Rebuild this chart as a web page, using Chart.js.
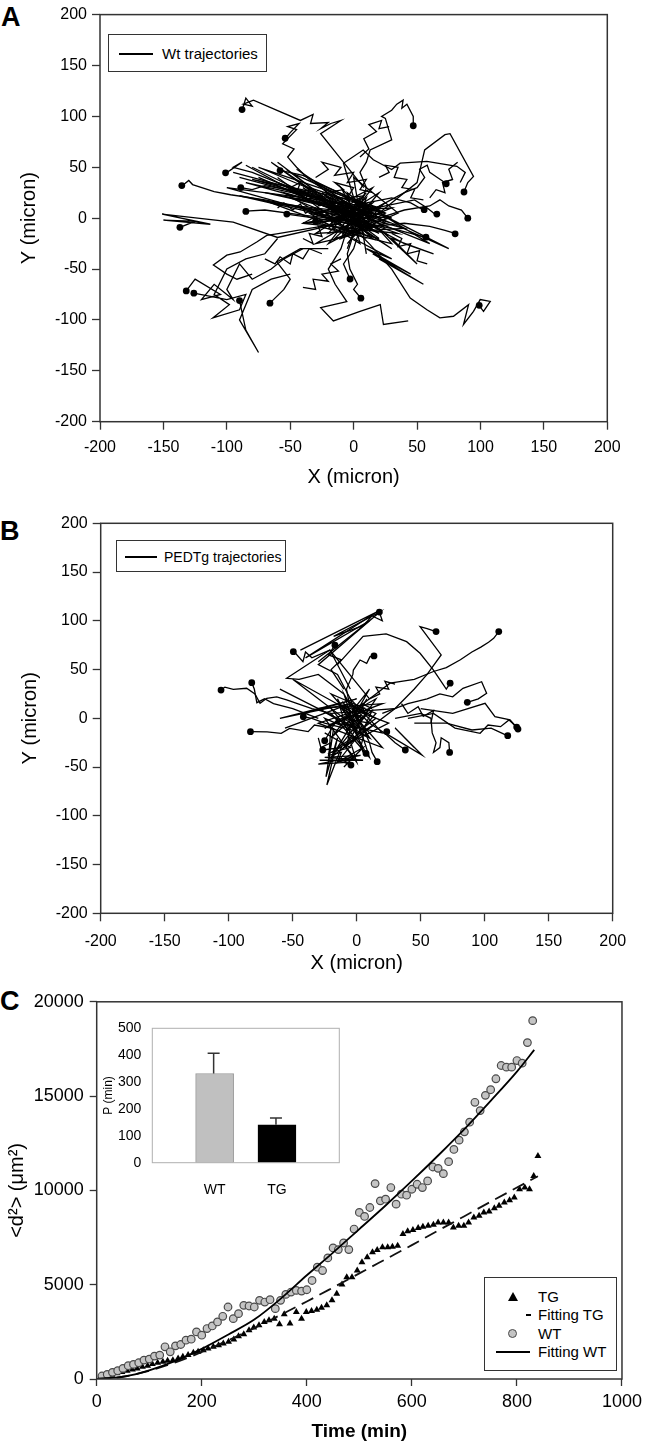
<!DOCTYPE html>
<html><head><meta charset="utf-8">
<script src="https://cdn.jsdelivr.net/npm/chart.js@4.4.0/dist/chart.umd.min.js"></script>
<style>
body{margin:0;background:#fff;width:647px;height:1447px;position:relative;overflow:hidden;font-family:"Liberation Sans",Arial,sans-serif;color:#000;}
canvas{position:absolute;}
.letter{position:absolute;font-weight:bold;font-size:27px;line-height:27px;}
.legend{position:absolute;border:1px solid #333;background:#fff;box-sizing:border-box;}
.legend .txt{position:absolute;white-space:nowrap;line-height:1;}
.legend .ln{position:absolute;background:#000;height:1.5px;}
</style></head><body>
<div class="letter" style="left:1px;top:4px">A</div>
<div class="letter" style="left:0px;top:518px">B</div>
<div class="letter" style="left:0px;top:988px">C</div>
<canvas id="cA" width="647" height="490" style="left:0;top:0"></canvas>
<canvas id="cB" width="647" height="495" style="left:0;top:490px"></canvas>
<canvas id="cC" width="647" height="462" style="left:0;top:985px"></canvas>
<canvas id="cI" width="260" height="185" style="left:90px;top:1010px"></canvas>

<div class="legend" style="left:108px;top:34px;width:159px;height:38px">
  <div class="ln" style="left:10px;top:18px;width:34px"></div>
  <div class="txt" style="left:53px;top:11px;font-size:15px">Wt trajectories</div>
</div>
<div class="legend" style="left:116px;top:540px;width:170px;height:32px">
  <div class="ln" style="left:8px;top:15px;width:32px"></div>
  <div class="txt" style="left:47px;top:9px;font-size:14px">PEDTg trajectories</div>
</div>
<div class="legend" style="left:484px;top:1277px;width:133px;height:94px">
  <div style="position:absolute;left:23px;top:14px;width:0;height:0;border-left:5px solid transparent;border-right:5px solid transparent;border-bottom:9px solid #000"></div>
  <div class="txt" style="left:53px;top:11px;font-size:15px">TG</div>
  <div class="ln" style="left:41px;top:36px;width:5px;height:2px"></div>
  <div class="txt" style="left:53px;top:29px;font-size:15px">Fitting TG</div>
  <div style="position:absolute;left:23px;top:51px;width:7px;height:7px;border-radius:50%;background:#c4c4c4;border:1.2px solid #4a4a4a"></div>
  <div class="txt" style="left:53px;top:48px;font-size:15px">WT</div>
  <div class="ln" style="left:11px;top:73px;width:34px;height:2px"></div>
  <div class="txt" style="left:53px;top:66px;font-size:15px">Fitting WT</div>
</div>

<script>
// ---------- Panel A : WT trajectories (x, y pairs in micron) ----------
const wtTracks = [
  [8,30, -26,83, -10,96, -18,93, -26,88, -20,94, -34,93, -32,102, -42,96, -79,116, -87,112, -80,110, -85,118, -88,106],
  [-5,15, -20,25, -35,38, -45,50, -52,60, -47,68, -56,73, -45,87, -52,90, -43,93, -50,84, -54,78],
  [0,0, -20,5, -45,12, -70,18, -97,23, -110,26, -127,33, -130,37, -135,32],
  [-10,-5, -60,-19, -95,-4, -151,4, -113,-6, -150,-2, -125,-3, -137,-9],
  [20,-5, -30,20, -80,45, -95,50, -88,55, -101,44],
  [10,5, -40,25, -70,32, -80,28, -89,30],
  [0,-3, -40,3, -70,8, -85,7],
  [15,10, -20,30, -40,42, -58,47],
  [-5,-5, -30,0, -53,4],
  [5,10, 10,30, 5,45, 10,55, 13,67, 30,77, 25,98, 22,100, 30,106, 34,112, 39,116, 38,108, 42,112, 47,100, 47,91],
  [10,5, 25,15, 40,25, 50,30, 56,40, 52,48, 58,52, 60,45, 66,40, 73,34],
  [15,0, 35,20, 50,35, 56,67, 72,82, 76,83, 94.5,41, 90,35, 87,26],
  [20,0, 40,8, 60,12, 68,18, 75,12, 85,8, 90,0],
  [10,-5, 30,-10, 45,-15, 57,-19],
  [15,-8, 40,-5, 60,-8, 72,-12, 80,-15],
  [10,15, 30,20, 45,15, 55,8],
  [0,5, 25,12, 48,18, 58,10, 65,3],
  [0,-10, 13,-26, 30,-50, 44.6,-78.6, 57.8,-90, 68,-98, 78.7,-96.4, 90.6,-85, 86.6,-104.5, 94.5,-91.5, 99.8,-80, 107.7,-81.8, 102.4,-91.5, 99,-86],
  [0,-15, -5,-35, -3,-50, 3,-65, 0,-70, 5.7,-78.6],
  [5,-10, 0,-30, -8,-45, -2.8,-60],
  [43,-101, 23.5,-104.5, 21,-85, 5,-91.6, -16,-101, -26,-88, -5.4,-82, -14.6,-65, -20,-50, -10,-30, -5,-10],
  [-40,-30, -55,-40, -65,-50, -80,-60, -90,-45, -100,-70, -95,-80, -110,-65, -120,-80, -105,-75, -125,-60, -132,-71.5],
  [-60,-20, -70,-35, -85,-40, -100,-50, -110,-75, -98,-85, -111,-98, -90,-90, -85,-75, -100,-80, -126,-73.7],
  [-50,-55, -65,-60, -80,-70, -90,-100, -75,-132, -85,-110, -90,-81],
  [-20,-30, -42,-30, -60.6,-43, -50,-60, -55,-70, -66,-83.5],
  [-10,-5, -35,-10, -60.6,-15.4, -68.5,-17, -76.4,-23.5, -89.5,-33.2, -100,-36.4, -110.6,-46, -100,-55, -92,-60, -80,-55],
  [-20,20, 10,-5, 40,-25, 63,-35, 30,-20, 50,-45, 20,-10],
  [0,20, -8,54, 7.5,67, 15.5,57.4, 30,47.7, 36.7,54, 57.7,55.8, 81.4,51, 88,45, 84,35],
  [-80,50, 10,-5, -60,35, 20,0, -70,25, 15,5, -90,40, 0,10, -45,48, 25,-10],
  [-40,30, 30,-30, -20,10, 40,-10, -30,-15, 20,25, -10,-20, 35,5, 0,40, 10,-35],
  [-25,-5, 15,15, -15,-20, 25,-5, -5,25, 5,-25, -35,5, 30,10, -10,-10, 20,-20],
  [-5,10, -50,20, 10,-10, -30,35, 25,5, -20,-25, 15,30, -40,-5, 35,-15, 0,0],
  [10,0, -15,5, 20,-15, -25,20, 5,-5, -10,30, 30,-25, -20,-10, 10,20, -5,-30],
  [0,-20, 30,-40, 10,-30, 45,-55, 15,-35, 55,-65, 20,-40],
  [10,0, 60,-25, 20,5, 75,-30, 30,-5],
  [-85,52, -30,15, -75,40, -10,5, -65,55, 5,-5, -90,22, 0,0],
  [-15,-5, -5,5, -12,10, 0,-8, 8,4, -3,12, 5,-12, 12,8, -8,-12, 3,3, -10,0, 10,-5, -5,15, 15,0, 0,-15],
  [-30,40, -20,48, -25,55, -10,50, -15,42, 0,45, -5,35, 10,38, 5,28, 15,25],
  [20,40, 28,45, 25,52, 35,50, 32,40, 42,38, 38,30, 48,28, 45,20, 55,18],
  [-50,30, -42,35, -45,25, -35,28, -38,18, -25,22, -28,12, -15,15, -18,5],
  [-40,-20, -32,-25, -35,-15, -25,-18, -28,-8, -15,-12, -18,-2, -5,-5],
  [30,-15, 38,-20, 35,-28, 45,-25, 42,-35, 52,-32, 50,-42, 58,-45],
  [-10,-40, -18,-45, -12,-52, -25,-55, -20,-62, -32,-60, -30,-70, -40,-68],
  [-60,10, -55,15, -48,8, -42,14, -38,5, -30,10, -25,2, -15,6],
  [5,60, 12,68, 8,78, 18,85, 12,92, 22,96, 20,88, 28,90],
  [60,20, 65,28, 72,25, 70,35, 78,38, 75,48, 82,55],
  [-70,-40, -62,-45, -58,-38, -50,-45, -48,-35, -40,-40, -35,-30, -25,-35],
  [-95,45, 25,5, -85,35, 30,-5, -75,50, 20,10, -100,30, 15,-10],
  [-60,55, 20,-20, -50,45, 30,0, -80,38, 10,15],
  [-20,10, -12,18, -22,25, -8,28, -15,35, 0,30, -5,20, 8,22, 2,12, 12,10],
  [-30,15, 20,-10, -35,5, 25,-15, -25,25, 15,-20, -40,10, 28,0, -20,-15, 10,25],
  [-10,-20, 5,20, -20,0, 15,5, -5,-25, 22,12, -28,-5, 8,-15, -15,22, 18,-5],
  [-45,20, 10,0, -40,-5, 20,8, -35,30, 5,-15, -30,-25, 25,15],
  [-60,40, 0,-15, -55,25, 5,5, -65,15, 10,-20]
];
// end-of-track dots
const wtEnds = [-88,106.7, -54,78.5, -135.5,32, -101,44.5, -89,30, -85,6.6, -58,46.7, -52.7,4, -137,-9, -132,-71.5, -126,-73.7, -90,-81, -66,-83.5, 47,90.8, 73,33.8, 87,25.7, 90,0, 55.6,8.3, 65.6,4, 57,-18.7, 80,-15.4, -2.8,-59.8, 5.7,-78.6, 99,-85.7, -30,-3, 12,-8];

// ---------- Panel B : PEDTg trajectories ----------
const pedTracks = [
  [-20,5, -35,10, -46.9,15.4, -54.7,18.8, -62.5,22, -70.3,20.5, -75.5,15.4, -79.5,25, -86,30.8, -96.4,29.7, -103,32, -106,29],
  [-30,0, -50,10, -65,15, -72,20, -78,16, -80,30, -82,36.5],
  [-5,30, -21,70, -35,62, -40,68, -42,58, -48,67, -49.5,68.3],
  [10,20, -21,70, -54.7,41, -45,40, -30,45, -10,25],
  [-10,-10, -25,-5, -35,0, -41.7,1.6],
  [-5,20, -15,45, -30,55, 18,109, -18,84, 5,95, 12,105, 20,100, 17.7,109],
  [30,10, 45,30, 55,45, 66,65, 49.5,94, 55,92, 62,89],
  [0,10, 15,25, 26,36, 45,40, 60,48, 70,52, 81,60, 90,68, 97,73, 103,78, 107,82, 111,89],
  [-15,55, 5,84, 23,86.5, 39,78.6, 49.5,66.7, 60,49.5, 70,30, 73,36],
  [-5,10, -8,30, -3,45, -2.6,49.5, 2.6,59.8, 7.8,56.4, 10.4,63.2, 13.5,64],
  [-10,30, -20,50, -12,60, -22,65, -17,75],
  [20,5, 40,15, 55,20, 65,25, 75,22, 83,30.8, 97.6,37.5, 101.5,25.6, 95,20, 86.4,16.4],
  [40,0, 60,5, 76.8,-10, 96.4,-15.4, 102.6,-6.9, 112.4,-8.6, 119,-1.7, 125,-9],
  [50,10, 75,5, 100.3,15.4, 108,1.6, 119.8,-1.7, 126,-11],
  [45,-5, 70,-5, 90,-12, 105,-10, 118,-18],
  [-20,-10, -33,-6.9, -37.9,-13.7, -52.4,-10.3, -59,-15.4, -70,-14, -83,-13.7],
  [-15,0, -25,-23],
  [-20,-5, -22,-45, -18,-10, -24,-60, -15,-20, -23.3,-68.4, -12,-30, -26.5,-32.5],
  [0,-5, 5,-20, 3,-30, 7.3,-36],
  [5,-10, 10,-25, 12,-35, 16,-44.5],
  [10,-5, 22,-15.4, 30,-25, 38,-32.5],
  [30,0, 50,5, 58,0, 59,-15, 62,-25, 60,-35, 65,-30, 66,-20, 72,-25, 72.6,-35],
  [-5,-10, -8,-30, -2,-40, -10,-45, -4.5,-48],
  [-29,-43, 5,-43, -25,-40, 3,-38, -30,-47, -5,-45],
  [-10,0, 20,15, -30,10, 10,-20, -20,25, 15,5, -5,-25, 25,-5, -15,15, 5,0],
  [0,5, -25,-10, 15,20, -10,-30, 30,10, -20,5, 10,-40, -5,20, 20,-15, -15,-5],
  [-5,-5, 10,30, -20,-20, 5,10, -30,-5, 20,-30, -10,15, 0,-15],
  [-56,-10, -5,15, -60,0, 0,20, -40,5],
  [22,-15, 51,-37.6, 30,-10, 45,-30],
  [-15,-5, -5,5, -12,10, 0,-8, 8,4, -3,12, 5,-12, 12,8, -8,-12, 3,3, -10,0, 10,-5, -5,15, 15,0, 0,-15],
  [-25,-15, -5,-30, -20,-35, 0,-20, -15,-45, 5,-30, -10,-50],
  [-44,70, 17,110, -40,62, 10,100, -30,58],
  [-5,-15, -8,-5, 0,-12, 3,0, -2,8, 6,5, 4,15, 12,10],
  [10,20, 18,25, 15,32, 25,30, 22,38, 30,35],
  [-30,-20, -28,-30, -20,-25, -22,-38, -12,-35, -15,-45, -5,-42],
  [-60,30, 0,-10, -50,40, 5,0],
  [35,15, 40,5, 48,12, 52,2, 60,8, 58,-5],
  [-20,10, 5,-30, -15,20, 0,-45, -25,0, 10,-20, -10,25, 5,-35],
  [-25,-10, 10,10, -20,-40, 15,-5, -15,-30, 8,20]
];
const pedEnds = [-106,29, -82,36.5, -49.5,68.3, -41.7,1.6, 17.7,109, 62,89, 111,89, 13.5,64, -17,75, 73,36, 86.4,16.4, 125,-9, -83,-13.7, 126,-11, 118,-17.8, -25,-23, -26.5,-32.5, 7.3,-36, 16,-44.5, 38,-32.5, 72.6,-35, -4.5,-48, 23.5,-13.7];

// ---------- Panel C : mean square displacement ----------
const wtTime = [10,20,30,40,50,60,70,80,90,100,110,120,130,140,150,160,170,180,190,200,210,220,230,240,250,260,270,280,290,300,310,320,330,340,350,360,370,380,390,400,410,420,430,440,450,460,470,480,490,500,510,520,530,540,550,560,570,580,590,600,610,620,630,640,650,660,670,680,690,700,710,720,730,740,750,760,770,780,790,800,810,820,830];
const wtMsd = [158,246,352,440,563,704,774,862,1003,1055,1214,1266,1706,1442,1759,1829,2058,2111,2498,2322,2674,2814,3025,3325,3817,3201,3465,3905,3870,3817,4169,4081,4204,3729,4169,4485,4609,4697,4661,4732,5224,5928,5752,6420,6948,6860,7212,6860,7951,8830,8619,9094,10361,9446,9534,10150,9270,9798,9745,10061,10325,10150,10501,11240,11170,10888,11521,12172,12665,13105,13615,14670,14230,15039,15338,15919,16623,16535,16535,16886,16746,17836,19000];
const tgTime = [10,19,29,39,48,58,68,77,87,97,106,116,126,135,145,155,164,174,184,193,203,212,222,232,241,251,261,270,280,290,299,309,319,328,338,348,357,368,380,390,399,409,419,428,438,448,457,467,476,486,496,505,515,525,534,544,554,563,573,583,592,602,612,621,631,641,650,660,670,679,689,699,708,718,728,737,747,757,766,776,786,795,805,815,824,832,840];
const tgMsd = [123,158,229,299,369,440,510,563,651,704,792,862,915,967,1000,1091,1179,1266,1390,1442,1530,1618,1706,1794,1882,1970,2093,2269,2375,2586,2726,2850,3025,3113,3201,2902,3430,2938,3553,3201,3553,3606,3676,3782,3905,4169,4521,5013,5400,5400,5752,6192,6455,6719,6843,6983,6983,7018,7071,7687,7828,7898,8003,8074,8127,8179,8302,8302,8302,8039,8127,8127,8302,8566,8654,8830,8883,9059,9182,9358,9481,9622,10061,10150,10061,10765,11820];
const wtFitTime = [0,50,100,150,200,250,300,350,400,450,500,550,600,650,700,750,800,833];
const wtFitMsd = [0,120,460,960,1600,2350,3150,4250,5500,6700,7950,9200,10500,11850,13250,14750,16300,17450];
const tgFitTime = [0,50,100,150,200,250,300,350,400,450,500,550,600,650,700,750,800,840];
const tgFitMsd = [0,120,440,880,1430,2050,2700,3400,4110,4850,5600,6350,7100,7870,8630,9400,10150,10750];

// ---------- Inset : persistence time P ----------
const pGroups = ['WT', 'TG'];
const pValues = [332, 141];
const pErrors = [75, 25];

const FONT = '"Liberation Sans", Arial, sans-serif';
Chart.defaults.font.family = FONT;
Chart.defaults.color = '#000';
const plain = v => String(v);

const frame = (color, w) => ({
  id: 'frame',
  afterDraw(chart) {
    const {ctx, chartArea: a} = chart;
    ctx.save();
    ctx.strokeStyle = color; ctx.lineWidth = w;
    ctx.strokeRect(a.left, a.top, a.right - a.left, a.bottom - a.top);
    ctx.restore();
  }
});

function pairs(t) {
  const p = [];
  for (let i = 0; i < t.length; i += 2) p.push({x: t[i], y: t[i + 1]});
  return p;
}
function zip(xs, ys) { return xs.map((x, i) => ({x, y: ys[i]})); }

function trackChart(id, tracks, ends, g) {
  const datasets = tracks.map((t, k) => ({
    label: 'track ' + (k + 1), data: pairs(t), showLine: true,
    borderColor: '#000', borderWidth: 1.3, tension: 0, pointRadius: 0
  }));
  datasets.push({label: 'ends', data: pairs(ends), showLine: false, pointRadius: 3.4,
    pointBackgroundColor: '#000', pointBorderWidth: 0});
  const axis = (title, tpad, extra) => Object.assign({
    type: 'linear', min: -200, max: 200,
    ticks: {stepSize: 50, font: {size: 16}, color: '#000', maxRotation: 0, autoSkip: false, callback: plain},
    grid: {display: true, drawOnChartArea: false, drawTicks: true, tickLength: 8, tickColor: '#333', tickWidth: 1.3},
    border: {display: false},
    title: {display: true, text: title, font: {size: 20}, color: '#000', padding: tpad}
  }, extra);
  const x = axis('X (micron)', {top: 0, bottom: g.xTitlePad}, {afterFit: s => { s.height = g.xH; }});
  x.ticks.padding = g.xTickPad;
  const y = axis('Y (micron)', {top: g.yTitlePad, bottom: 0}, {afterFit: s => { s.width = g.yW; }});
  y.ticks.padding = 5;
  new Chart(document.getElementById(id), {
    type: 'scatter',
    data: {datasets},
    options: {
      responsive: false, animation: false, events: [],
      layout: {padding: {top: g.top, right: g.right, left: 0, bottom: 0}},
      plugins: {legend: {display: false}, tooltip: {enabled: false}},
      scales: {x, y}
    },
    plugins: [frame('#333', 1.5)]
  });
}

trackChart('cA', wtTracks, wtEnds, {top: 10, right: 39.7, xH: 68.3, yW: 100, xTitlePad: 1, xTickPad: 8, yTitlePad: 17});
trackChart('cB', pedTracks, pedEnds, {top: 33.3, right: 34.3, xH: 71.7, yW: 100.7, xTitlePad: 10, xTickPad: 10.5, yTitlePad: 18});

// ---------- Panel C main chart ----------
new Chart(document.getElementById('cC'), {
  type: 'scatter',
  data: {datasets: [
    {label: 'TG', data: zip(tgTime, tgMsd), pointStyle: 'triangle', pointRadius: 4, backgroundColor: '#000', borderColor: '#000', borderWidth: 0, order: 3},
    {label: 'Fitting TG', data: zip(tgFitTime, tgFitMsd), showLine: true, borderColor: '#111', borderWidth: 1.8, borderDash: [13, 7], pointRadius: 0, cubicInterpolationMode: 'monotone', order: 1},
    {label: 'WT', data: zip(wtTime, wtMsd), pointStyle: 'circle', pointRadius: 3.8, backgroundColor: '#c4c4c4', borderColor: '#4a4a4a', borderWidth: 1.2, order: 2},
    {label: 'Fitting WT', data: zip(wtFitTime, wtFitMsd), showLine: true, borderColor: '#000', borderWidth: 1.8, pointRadius: 0, cubicInterpolationMode: 'monotone', order: 0}
  ]},
  options: {
    responsive: false, animation: false, events: [],
    layout: {padding: {top: 15.5, right: 25, left: 0, bottom: 0}},
    plugins: {legend: {display: false}, tooltip: {enabled: false}},
    scales: {
      x: {type: 'linear', min: 0, max: 1000,
        ticks: {stepSize: 200, font: {size: 18}, color: '#000', padding: 5, maxRotation: 0, callback: plain},
        grid: {display: true, drawOnChartArea: false, tickLength: 7, tickColor: '#333', tickWidth: 1.3},
        border: {display: false},
        title: {display: true, text: 'Time (min)', font: {size: 19, weight: 'bold'}, color: '#000', padding: {top: 0, bottom: 3.6}},
        afterFit: s => { s.height = 68; }},
      y: {type: 'linear', min: 0, max: 20000,
        ticks: {stepSize: 5000, font: {size: 18}, color: '#000', padding: 6, callback: plain},
        grid: {display: true, drawOnChartArea: false, tickLength: 7, tickColor: '#333', tickWidth: 1.3},
        border: {display: false},
        title: {display: true, text: '<d²> (μm²)', font: {size: 20}, color: '#000', padding: {top: 5, bottom: 0}},
        afterFit: s => { s.width = 96.7; }}
    }
  },
  plugins: [frame('#333', 1.5)]
});

// ---------- Inset bar chart ----------
const errorBars = {
  id: 'errorBars',
  afterDatasetsDraw(chart) {
    const meta = chart.getDatasetMeta(0);
    const ys = chart.scales.y;
    const ctx = chart.ctx;
    ctx.save();
    ctx.strokeStyle = '#333'; ctx.lineWidth = 1.5;
    meta.data.forEach((bar, i) => {
      const top = ys.getPixelForValue(pValues[i] + pErrors[i]);
      ctx.beginPath();
      ctx.moveTo(bar.x - 1, bar.y); ctx.lineTo(bar.x - 1, top);
      ctx.moveTo(bar.x - 7, top); ctx.lineTo(bar.x + 5, top);
      ctx.stroke();
    });
    ctx.restore();
  }
};
new Chart(document.getElementById('cI'), {
  type: 'bar',
  data: {datasets: [{
    label: 'P', data: pGroups.map((g, i) => ({x: i + 1, y: pValues[i]})),
    backgroundColor: ['#c0c0c0', '#000'], borderColor: ['#9a9a9a', '#000'], borderWidth: 1,
    barThickness: 38
  }]},
  options: {
    responsive: false, animation: false, events: [],
    layout: {padding: {top: 18.3, right: 10.7, left: 0, bottom: 0}},
    plugins: {legend: {display: false}, tooltip: {enabled: false}},
    scales: {
      x: {type: 'linear', min: 0, max: 3, offset: false,
        afterBuildTicks: s => { s.ticks = pGroups.map((g, i) => ({value: i + 1})); },
        ticks: {font: {size: 14}, color: '#000', padding: 11, callback: v => pGroups[v - 1] || ''},
        grid: {display: false}, border: {display: false},
        afterFit: s => { s.height = 32.3; }},
      y: {min: 0, max: 500,
        ticks: {stepSize: 100, font: {size: 14}, color: '#000', padding: 3},
        grid: {display: false}, border: {display: false},
        title: {display: true, text: 'P (min)', font: {size: 12}, color: '#000', padding: {top: 11.8, bottom: 0}},
        afterFit: s => { s.width = 62.3; }}
    }
  },
  plugins: [frame('#b0b0b0', 1), errorBars]
});
</script>
</body></html>
